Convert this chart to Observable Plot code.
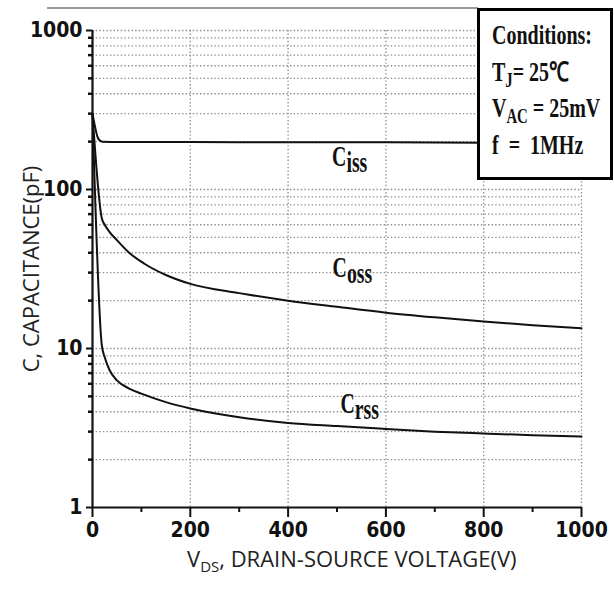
<!DOCTYPE html>
<html>
<head>
<meta charset="utf-8">
<script src="https://cdn.jsdelivr.net/npm/d3@7"></script>
<script src="https://cdn.jsdelivr.net/npm/@observablehq/plot@0.6"></script>
<style>
  body { margin: 0; background: #fff; }
  #wrap { position: relative; width: 614px; height: 589px; overflow: hidden; background: #fff; }
  #wrap > svg { position: absolute; left: 0; top: 0; }
  #topline { position: absolute; left: 47px; top: 7px; width: 431px; height: 1.5px; background: #9a9a9a; }
  #cond { position: absolute; left: 477px; top: 8px; width: 136px; height: 172px; box-sizing: border-box;
          border: 3.5px solid #000; background: #fff; }
  #cond .ln { position: absolute; left: 11.5px; font: bold 27px/30px "Liberation Serif", "Times New Roman", serif;
              color: #111; white-space: pre; transform: scaleX(0.74); transform-origin: 0 0; }
  #cond .sb { position: relative; top: 6px; font-size: 20px; }
  #xtitle { position: absolute; left: 187px; top: 547px; font: 22px/22px "Open Sans", sans-serif; color: #222; white-space: pre; }
  #xtitle .sb { position: relative; top: 5px; font-size: 15px; }
</style>
</head>
<body>
<div id="wrap"></div>
<script>
// Capacitance vs drain-source voltage (pF against V)
const cissV = [0, 5, 10, 15, 20, 60, 200, 400, 600, 800, 1000];
const cissC = [300, 250, 215, 203, 200, 199, 199, 198, 198, 197, 197];

const cossV = [0, 19, 25, 35, 50, 75, 107, 150, 200, 300, 400, 500, 600, 700, 800, 900, 1000];
const cossC = [300, 66, 60, 54, 48, 40, 34, 29, 25.5, 22.3, 20, 18.3, 16.8, 15.7, 14.8, 14, 13.4];

const crssV = [0, 19, 25, 35, 50, 75, 100, 150, 200, 300, 400, 500, 600, 700, 800, 900, 1000];
const crssC = [300, 10.5, 8.8, 7.3, 6.3, 5.6, 5.2, 4.6, 4.2, 3.7, 3.4, 3.25, 3.12, 3.0, 2.92, 2.85, 2.8];

// Tick values
const yMajor = [1, 10, 100, 1000];
const yMinor = [2, 3, 4, 5, 6, 7, 8, 9, 20, 30, 40, 50, 60, 70, 80, 90, 200, 300, 400, 500, 600, 700, 800, 900];
const yGrid = yMinor.concat([10, 100, 1000]);
const xMajor = [0, 200, 400, 600, 800, 1000];
const xMinor = [100, 300, 500, 700, 900];
const xGrid = [200, 400, 600, 800, 1000];

// Curve names and where their labels sit (V, pF)
const curveNames = ["Ciss", "Coss", "Crss"];
const labelV = [490, 491, 507];
const labelC = [161, 32.3, 4.5];

// Text
const yTitle = "C, CAPACITANCE(pF)";
const xTitleMain = "V";
const xTitleSub = "DS";
const xTitleRest = ", DRAIN-SOURCE VOLTAGE(V)";
const conditionsHead = "Conditions:";
const conditions = [["T", "J", "= 25\u2103"], ["V", "AC", " = 25mV"], ["f", "", "  =  1MHz"]];

const series = [
  {name: "Ciss", v: cissV, c: cissC},
  {name: "Coss", v: cossV, c: cossC},
  {name: "Crss", v: crssV, c: crssC}
];
const rows = series.flatMap(s => s.v.map((v, i) => ({series: s.name, v, c: s.c[i]})));
const labels = curveNames.map((name, i) => ({name, v: labelV[i], c: labelC[i]}));

const tickFont = {
  fontFamily: '"Liberation Sans Narrow", "DejaVu Sans Condensed", sans-serif',
  fontWeight: "bold",
  fontSize: 21
};
const gridStyle = {stroke: "#8c8c8c", strokeOpacity: 1, strokeWidth: 1.3, strokeDasharray: "1.4,2.2"};
const labelFamily = "Liberation Serif, serif";

const chart = Plot.plot({
  width: 614,
  height: 589,
  marginLeft: 92,
  marginRight: 33,
  marginTop: 30,
  marginBottom: 82,
  style: {background: "transparent", overflow: "visible", color: "#111"},
  x: {domain: [0, 1000]},
  y: {type: "log", domain: [1, 1000]},
  marks: [
    Plot.gridY(yGrid, gridStyle),
    Plot.gridX(xGrid, gridStyle),
    Plot.line(rows, {x: "v", y: "c", z: "series", stroke: "#111", strokeWidth: 2, curve: "monotone-x"}),
    Plot.ruleX([0], {stroke: "#111", strokeWidth: 2.2}),
    Plot.ruleY([1], {stroke: "#111", strokeWidth: 2.2}),
    Plot.axisY(yMajor, {tickSize: 6, tickPadding: 4, tickFormat: d => String(d), strokeWidth: 2, label: null, ...tickFont}),
    Plot.axisY(yMinor, {tickSize: 4, tickFormat: () => "", strokeWidth: 2.5, label: null}),
    Plot.axisX(xMajor, {tickSize: 10, tickPadding: 5, tickFormat: d => String(d), strokeWidth: 2, label: null, ...tickFont}),
    Plot.axisX(xMinor, {tickSize: 5, tickFormat: () => "", strokeWidth: 2, label: null}),
    Plot.text([yTitle], {frameAnchor: "left", dx: -61, rotate: -90, textAnchor: "middle", lineAnchor: "middle",
      fontFamily: '"Open Sans", sans-serif', fontSize: 22, fill: "#222"}),
    Plot.text(labels, {x: "v", y: "c", text: "name", textAnchor: "start", lineAnchor: "middle",
      fontFamily: labelFamily, fontWeight: "bold", fontSize: 30, fill: "#111"})
  ]
});

const wrap = document.getElementById("wrap");
wrap.appendChild(chart);

// Curve labels: "C" followed by a lowered subscript, narrowed with textLength
d3.select(chart).selectAll(`g[font-family="${labelFamily}"] text`).each(function () {
  const t = this.textContent;
  const sel = d3.select(this);
  sel.text(t[0]);
  sel.append("tspan").attr("dy", 6).text(t.slice(1));
  const w = this.getComputedTextLength();
  sel.attr("textLength", (w * 0.66).toFixed(1)).attr("lengthAdjust", "spacingAndGlyphs");
});

// Thin rule along the top
const topline = document.createElement("div");
topline.id = "topline";
wrap.appendChild(topline);

// Measurement conditions box
const cond = document.createElement("div");
cond.id = "cond";
const lineTops = [9.4, 46.4, 82.4, 119.4];
const head = document.createElement("div");
head.className = "ln";
head.style.top = lineTops[0] + "px";
head.textContent = conditionsHead;
cond.appendChild(head);
conditions.forEach(([a, sub, rest], i) => {
  const ln = document.createElement("div");
  ln.className = "ln";
  ln.style.top = lineTops[i + 1] + "px";
  ln.appendChild(document.createTextNode(a));
  if (sub) {
    const s = document.createElement("span");
    s.className = "sb";
    s.textContent = sub;
    ln.appendChild(s);
  }
  ln.appendChild(document.createTextNode(rest));
  cond.appendChild(ln);
});
wrap.appendChild(cond);

// X-axis title with subscript
const xt = document.createElement("div");
xt.id = "xtitle";
xt.appendChild(document.createTextNode(xTitleMain));
const xs = document.createElement("span");
xs.className = "sb";
xs.textContent = xTitleSub;
xt.appendChild(xs);
xt.appendChild(document.createTextNode(xTitleRest));
wrap.appendChild(xt);
</script>
</body>
</html>
